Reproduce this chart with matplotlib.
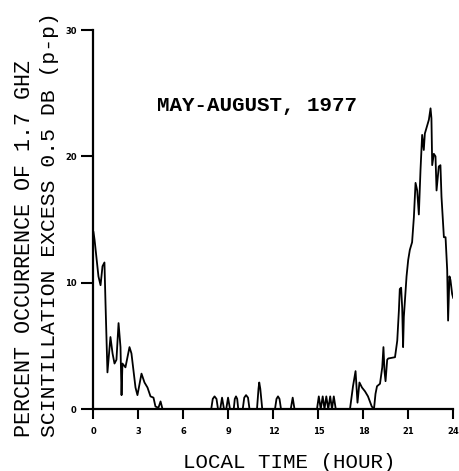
import numpy as np
import matplotlib.pyplot as plt

# Data
hours = [0.0, 0.07, 0.33, 0.47, 0.6, 0.73, 0.8, 0.93, 1.13, 1.27, 1.4, 1.53,
         1.67, 1.8, 1.87, 1.93, 2.13, 2.4, 2.53, 2.8, 2.93, 3.2, 3.4, 3.6,
         3.8, 4.0, 4.13, 4.33, 4.47, 4.6,
         7.85, 7.95, 8.07, 8.2, 8.3,
         8.45, 8.57, 8.7,
         8.85, 8.97, 9.1,
         9.35, 9.42, 9.5, 9.58, 9.65,
         9.95, 10.05, 10.17, 10.3, 10.4,
         10.9, 11.0, 11.05, 11.12, 11.25,
         12.1, 12.2, 12.3, 12.4, 12.5,
         13.15, 13.28, 13.4,
         14.9, 15.02, 15.15, 15.28, 15.4, 15.52, 15.65, 15.78, 15.9, 16.02, 16.15,
         17.1, 17.3, 17.47, 17.55, 17.6, 17.73, 17.9, 18.1, 18.3, 18.55, 18.7,
         18.8, 18.9, 19.1, 19.25, 19.33, 19.4, 19.47, 19.58, 19.65, 20.1,
         20.25, 20.36, 20.42, 20.51, 20.58, 20.64, 20.69, 20.87, 20.98, 21.09,
         21.24, 21.36, 21.47, 21.58, 21.69, 21.8, 21.91, 22.02, 22.09, 22.24,
         22.36, 22.47, 22.53, 22.58, 22.69, 22.8, 22.87, 23.02, 23.13, 23.2,
         23.36, 23.47, 23.58, 23.64, 23.73, 23.8, 23.91, 23.98]
percent = [14.0, 13.4, 10.5, 9.8, 11.3, 11.6, 8.4, 2.9, 5.7, 4.4, 3.6, 3.9,
           6.8, 4.9, 1.1, 3.6, 3.3, 4.9, 4.4, 1.7, 1.1, 2.8, 2.1, 1.7,
           1.0, 0.9, 0.2, 0.1, 0.6, 0.0,
           0.0, 0.8, 1.0, 0.8, 0.0,
           0.0, 0.9, 0.0,
           0.0, 0.9, 0.0,
           0.0, 0.8, 1.0, 0.8, 0.0,
           0.0, 0.9, 1.1, 0.9, 0.0,
           0.0, 1.6, 2.1, 1.6, 0.0,
           0.0, 0.8, 1.0, 0.8, 0.0,
           0.0, 0.9, 0.0,
           0.0, 1.0, 0.0, 1.0, 0.0, 1.0, 0.0, 1.0, 0.0, 1.0, 0.0,
           0.0, 1.8, 3.0, 1.5, 0.5, 2.1, 1.7, 1.4, 1.0, 0.2, 0.0,
           1.2, 1.8, 2.0, 3.3, 4.9, 3.0, 2.2, 3.9, 4.0, 4.1,
           5.4, 7.8, 9.5, 9.6, 8.0, 4.9, 7.3, 10.5, 11.8, 12.6,
           13.2, 15.2, 17.9, 17.3, 15.4, 18.9, 21.7, 20.5, 21.8, 22.4,
           22.9, 23.8, 23.0, 19.3, 20.2, 20.0, 17.3, 19.2, 19.3, 16.8,
           13.6, 13.6, 11.0, 7.0, 10.5, 10.2, 9.1, 8.8]

xticks = [0, 3, 6, 9, 12, 15, 18, 21, 24]
yticks = [0, 10, 20, 30]

mono = 'Liberation Mono'

fig = plt.figure(figsize=(4.59, 4.71), dpi=100)
ax = fig.add_axes([0.2037, 0.1316, 0.7843, 0.8047])

ax.plot(hours, percent, color='black', lw=1.3)

ax.set_xlim(0, 24)
ax.set_ylim(0, 30)
ax.set_xticks(xticks)
ax.set_yticks(yticks)
ax.set_xticklabels([str(v) for v in xticks], fontsize=6, fontweight='bold')
ax.set_yticklabels([str(v) for v in yticks], fontsize=6, fontweight='bold')
ax.tick_params(axis='x', direction='out', length=7, width=1.5, pad=6)
ax.tick_params(axis='y', direction='out', length=9, width=1.5, pad=3)

for s in ['top', 'right']:
    ax.spines[s].set_visible(False)
for s in ['left', 'bottom']:
    ax.spines[s].set_linewidth(1.6)

ax.text(10.9, 24.0, 'MAY-AUGUST, 1977', family=mono, fontweight='bold',
        fontsize=15, ha='center', va='center')

fig.text(0.63, 0.018, 'LOCAL TIME (HOUR)', family=mono, fontsize=15,
         ha='center', va='center')
fig.text(0.053, 0.072, 'PERCENT OCCURRENCE OF 1.7 GHZ', family=mono,
         fontsize=15.6, rotation=90, rotation_mode='anchor', ha='left', va='center')
fig.text(0.107, 0.072, 'SCINTILLATION EXCESS 0.5 DB (p-p)', family=mono,
         fontsize=15.4, rotation=90, rotation_mode='anchor', ha='left', va='center')

fig.savefig('out.png', dpi=100)
